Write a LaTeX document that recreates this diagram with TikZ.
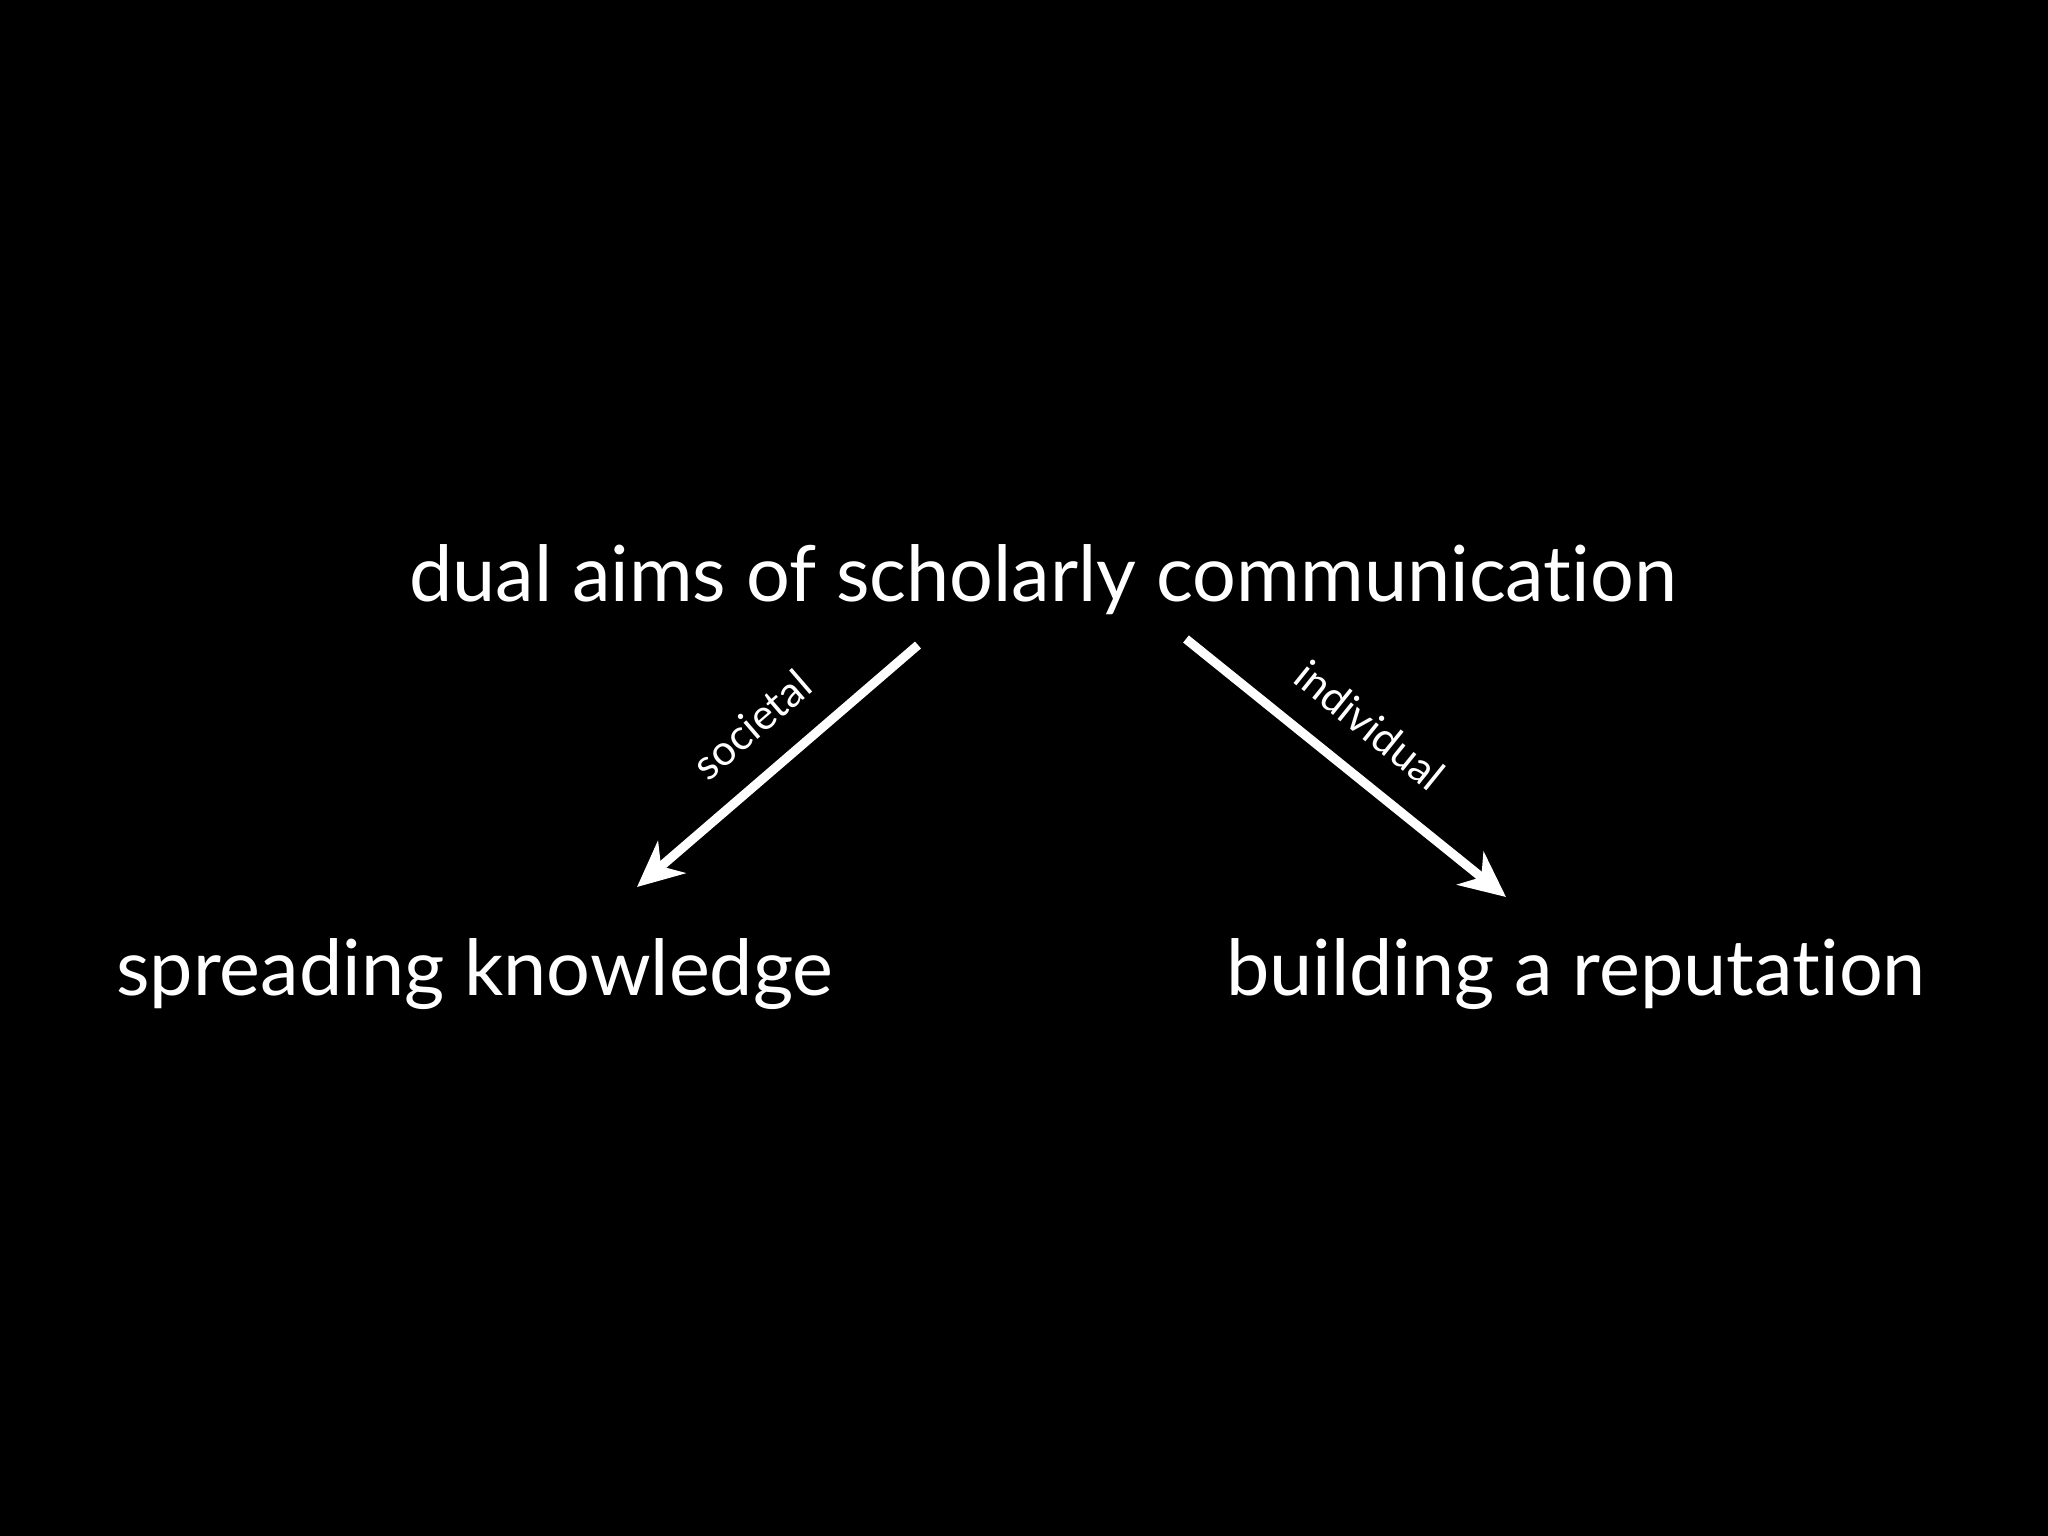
\documentclass[tikz,border=0pt]{standalone}
\usepackage{fontspec}
\setmainfont{Lato}[Ligatures=NoCommon]
\usetikzlibrary{arrows.meta}
\begin{document}
\begin{tikzpicture}[x=0.01cm,y=-0.01cm,
  every node/.style={text=white},
  aim/.style={font=\fontsize{22}{26}\selectfont, inner sep=0pt, anchor=base},
  link/.style={white, line width=2.6pt, -{Stealth[length=13pt,width=12pt,inset=4pt]}},
  tag/.style={font=\fontsize{12}{14}\selectfont, sloped, anchor=south, inner xsep=0pt, inner ysep=8pt}]
\fill[black] (0,0) rectangle (2048,1536);
\node[aim] (dual) at (1043,601) {dual aims of scholarly communication};
\node[aim] (spread) at (475,995) {spreading knowledge};
\node[aim] (build) at (1576,995) {building a reputation};
\coordinate (ls) at (918,645);
\coordinate (le) at (637,887);
\coordinate (rs) at (1186,639);
\coordinate (re) at (1506,897);
\draw[link] (ls) -- (le) node[tag, pos=0.48] {societal};
\draw[link] (rs) -- (re) node[tag, pos=0.48] {individual};
\end{tikzpicture}
\end{document}
